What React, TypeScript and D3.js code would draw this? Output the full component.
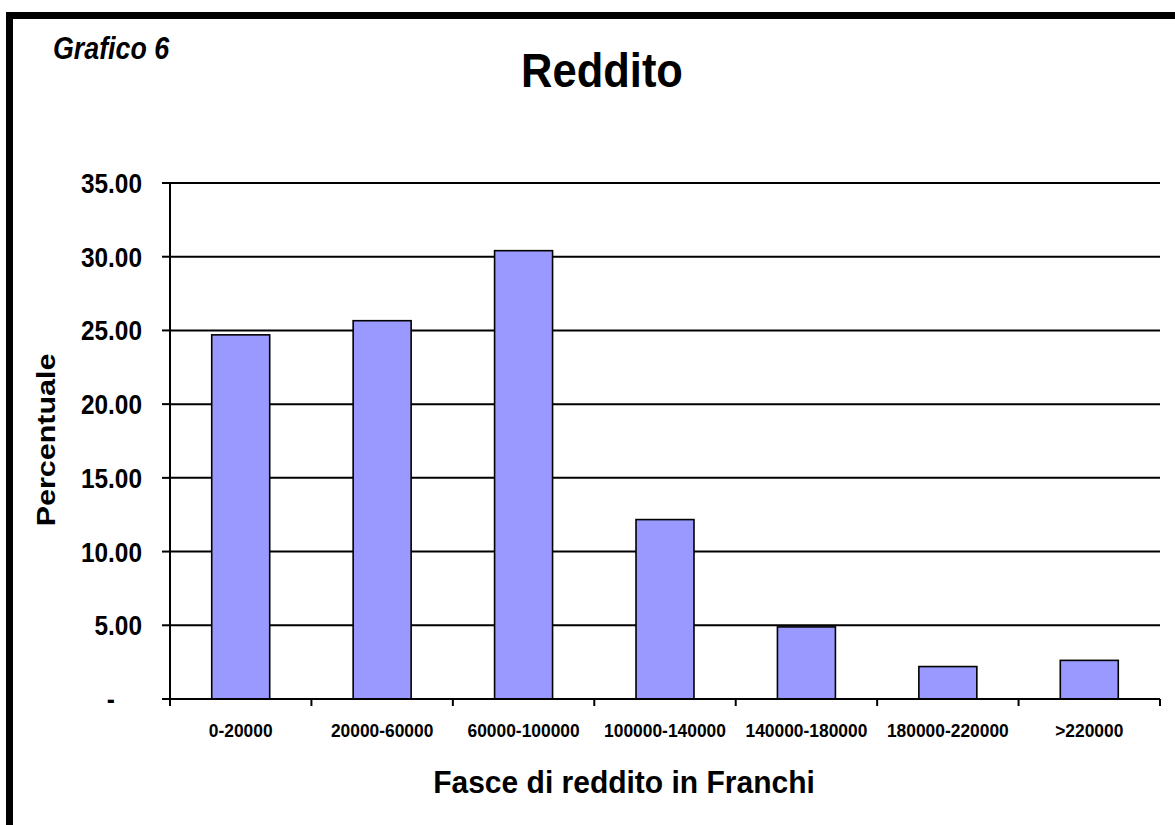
import React from "react";
import * as d3 from "d3";

const categories = [
  "0-20000",
  "20000-60000",
  "60000-100000",
  "100000-140000",
  "140000-180000",
  "180000-220000",
  ">220000",
];
const values = [24.7, 25.66, 30.41, 12.17, 4.89, 2.2, 2.62];
const yTicks = [0, 5, 10, 15, 20, 25, 30, 35];

const W = 1175;
const H = 825;
const FONT = "'Liberation Sans', Arial, sans-serif";

export default function App() {
  const plotLeft = 170;
  const plotRight = 1160;
  const plotTop = 183;
  const plotBottom = 699;

  const x = d3.scaleBand<string>().domain(categories).range([plotLeft, plotRight]).padding(0);
  const y = d3.scaleLinear().domain([0, 35]).range([plotBottom, plotTop]);
  const barW = x.bandwidth() * 0.41;
  const boundaries = d3.range(categories.length + 1).map((i) => plotLeft + i * x.step());

  const fmt = (v: number) => (v === 0 ? "-" : d3.format(".2f")(v));

  return (
    <svg
      width={W}
      height={H}
      style={{ position: "absolute", left: 0, top: 0, background: "#fff" }}
      fontFamily={FONT}
    >
      <rect x={0} y={0} width={W} height={H} fill="#fff" />
      {/* frame */}
      <rect x={6} y={12} width={W - 6} height={7} fill="#000" />
      <rect x={6} y={12} width={7} height={H - 12} fill="#000" />

      {/* Grafico 6 */}
      <text
        transform="translate(53,59) scale(1,1.15)"
        fontSize={26.8}
        fontWeight="bold"
        fontStyle="italic"
        fill="#000"
      >
        Grafico 6
      </text>

      {/* Title */}
      <text
        transform="translate(602,87) scale(1,1.12)"
        fontSize={43.5}
        fontWeight="bold"
        textAnchor="middle"
        fill="#000"
      >
        Reddito
      </text>

      {/* gridlines */}
      {yTicks
        .filter((t) => t > 0)
        .map((t) => (
          <line key={"g" + t} x1={plotLeft} x2={plotRight} y1={y(t)} y2={y(t)} stroke="#000" strokeWidth={2} />
        ))}

      {/* bars */}
      {categories.map((c, i) => {
        const cx = (x(c) as number) + x.bandwidth() / 2;
        return (
          <rect
            key={c}
            x={cx - barW / 2}
            y={y(values[i])}
            width={barW}
            height={y(0) - y(values[i])}
            fill="#9999FF"
            stroke="#000"
            strokeWidth={1.6}
          />
        );
      })}

      {/* y axis */}
      <line x1={plotLeft} x2={plotLeft} y1={plotTop} y2={plotBottom} stroke="#000" strokeWidth={2} />
      {yTicks.map((t) => (
        <g key={"y" + t}>
          <line x1={plotLeft - 8} x2={plotLeft} y1={y(t)} y2={y(t)} stroke="#000" strokeWidth={2} />
          <text
            transform={`translate(${t === 0 ? 115 : 142},${y(t) + 10}) scale(1,1.145)`}
            fontSize={24.4}
            fontWeight="bold"
            textAnchor="end"
            fill="#000"
          >
            {fmt(t)}
          </text>
        </g>
      ))}

      {/* x axis */}
      <line x1={plotLeft} x2={plotRight} y1={plotBottom} y2={plotBottom} stroke="#000" strokeWidth={2} />
      {boundaries.map((bx, i) => (
        <line key={"xt" + i} x1={bx} x2={bx} y1={plotBottom} y2={plotBottom + 7} stroke="#000" strokeWidth={2} />
      ))}
      {categories.map((c) => (
        <text
          key={"xl" + c}
          transform={`translate(${(x(c) as number) + x.bandwidth() / 2},737) scale(1,1.08)`}
          fontSize={17.4}
          fontWeight="bold"
          textAnchor="middle"
          fill="#000"
        >
          {c}
        </text>
      ))}

      {/* axis titles */}
      <text
        transform="translate(55,440) scale(1,1.15) rotate(-90)"
        fontSize={26.5}
        fontWeight="bold"
        textAnchor="middle"
        fill="#000"
      >
        Percentuale
      </text>
      <text
        transform="translate(624,793) scale(1,1.05)"
        fontSize={30}
        fontWeight="bold"
        textAnchor="middle"
        fill="#000"
      >
        Fasce di reddito in Franchi
      </text>
    </svg>
  );
}
